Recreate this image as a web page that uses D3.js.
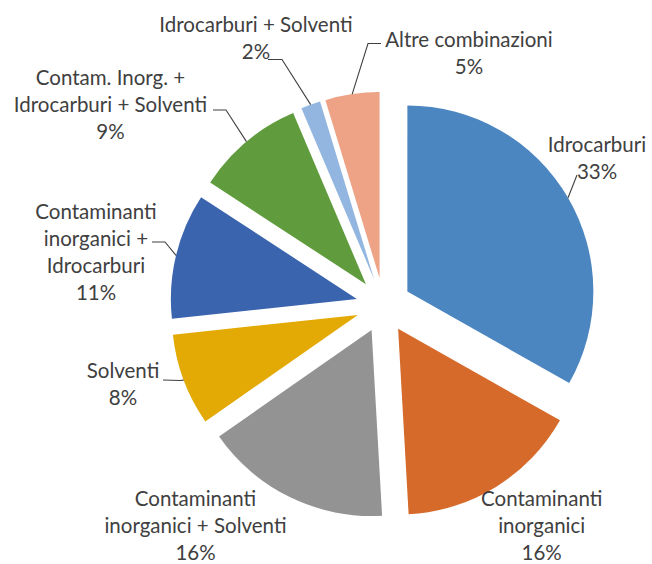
<!DOCTYPE html>
<html>
<head>
<meta charset="utf-8">
<script src="https://cdn.jsdelivr.net/npm/d3@7"></script>
<style>
  html, body { margin: 0; padding: 0; background: #ffffff; }
  svg { display: block; }
</style>
</head>
<body>
<svg id="chart" width="652" height="564"></svg>
<script>
// ---- data ----
const categories = [
  "Idrocarburi",
  "Contaminanti inorganici",
  "Contaminanti inorganici + Solventi",
  "Solventi",
  "Contaminanti inorganici + Idrocarburi",
  "Contam. Inorg. + Idrocarburi + Solventi",
  "Idrocarburi + Solventi",
  "Altre combinazioni"
];
const values = [33.2, 15.9, 16.2, 8.0, 10.9, 9.4, 1.7, 4.7];
const labelLines = [
  ["Idrocarburi"],
  ["Contaminanti", "inorganici"],
  ["Contaminanti", "inorganici + Solventi"],
  ["Solventi"],
  ["Contaminanti", "inorganici +", "Idrocarburi"],
  ["Contam. Inorg. +", "Idrocarburi + Solventi"],
  ["Idrocarburi + Solventi"],
  ["Altre combinazioni"]
];
const colors = ["#4c86c0", "#d56a2a", "#939393", "#e3a904", "#3b64ae", "#609c3d", "#93b6e0", "#eea286"];

// ---- layout ----
const cx = 383.6, cy = 305.3, R = 186, explode = 27.5;
const lineH = 27;
const fontFamily = "Lato, 'Open Sans', sans-serif";
const fontSize = 20.5;
// label placement: centre x, first baseline y, leader (label-side points)
const labelLayout = [
  { x: 597,   y: 151.7, leader: [[577, 175]] },
  { x: 541.7, y: 506,   leader: null },
  { x: 195.5, y: 506,   leader: null },
  { x: 123,   y: 378.3, leader: [[163, 380], [180, 380.5]] },
  { x: 96,    y: 219.3, leader: [[152, 242], [165, 242]] },
  { x: 110.5, y: 85,    leader: [[213, 110], [226, 110]] },
  { x: 256,   y: 31.7,  leader: [[268, 59.5], [282, 59.5]] },
  { x: 469,   y: 46.5,  leader: [[381, 43.5], [368, 43.5]] }
];

const svg = d3.select("#chart");
const g = svg.append("g").attr("transform", `translate(${cx},${cy})`);

const pie = d3.pie().sort(null).value(d => d);
const arcs = pie(values);
const arc = d3.arc().innerRadius(0).outerRadius(R);
const edgeArc = d3.arc().innerRadius(R + explode).outerRadius(R + explode);

function offset(a) {
  const m = (a.startAngle + a.endAngle) / 2;
  return [Math.sin(m) * explode, -Math.cos(m) * explode];
}

g.selectAll("path.slice")
  .data(arcs)
  .enter().append("path")
  .attr("class", "slice")
  .attr("d", arc)
  .attr("fill", (d, i) => colors[i])
  .attr("transform", d => { const o = offset(d); return `translate(${o[0]},${o[1]})`; });

// leader lines
const line = d3.line();
arcs.forEach((a, i) => {
  const L = labelLayout[i];
  if (!L.leader) return;
  const e = edgeArc.centroid(a);
  const pts = L.leader.map(p => p.slice()).concat([[e[0] + cx, e[1] + cy]]);
  svg.append("path")
    .attr("d", line(pts))
    .attr("fill", "none")
    .attr("stroke", "#404040")
    .attr("stroke-width", 1.1);
});

// labels
arcs.forEach((a, i) => {
  const L = labelLayout[i];
  const lines = labelLines[i].concat([Math.round(values[i]) + "%"]);
  const t = svg.append("text")
    .attr("text-anchor", "middle")
    .attr("font-family", fontFamily)
    .attr("font-size", fontSize)
    .attr("fill", "#404040");
  lines.forEach((s, k) => {
    t.append("tspan").attr("x", L.x).attr("y", L.y + k * lineH).text(s);
  });
});
</script>
</body>
</html>
